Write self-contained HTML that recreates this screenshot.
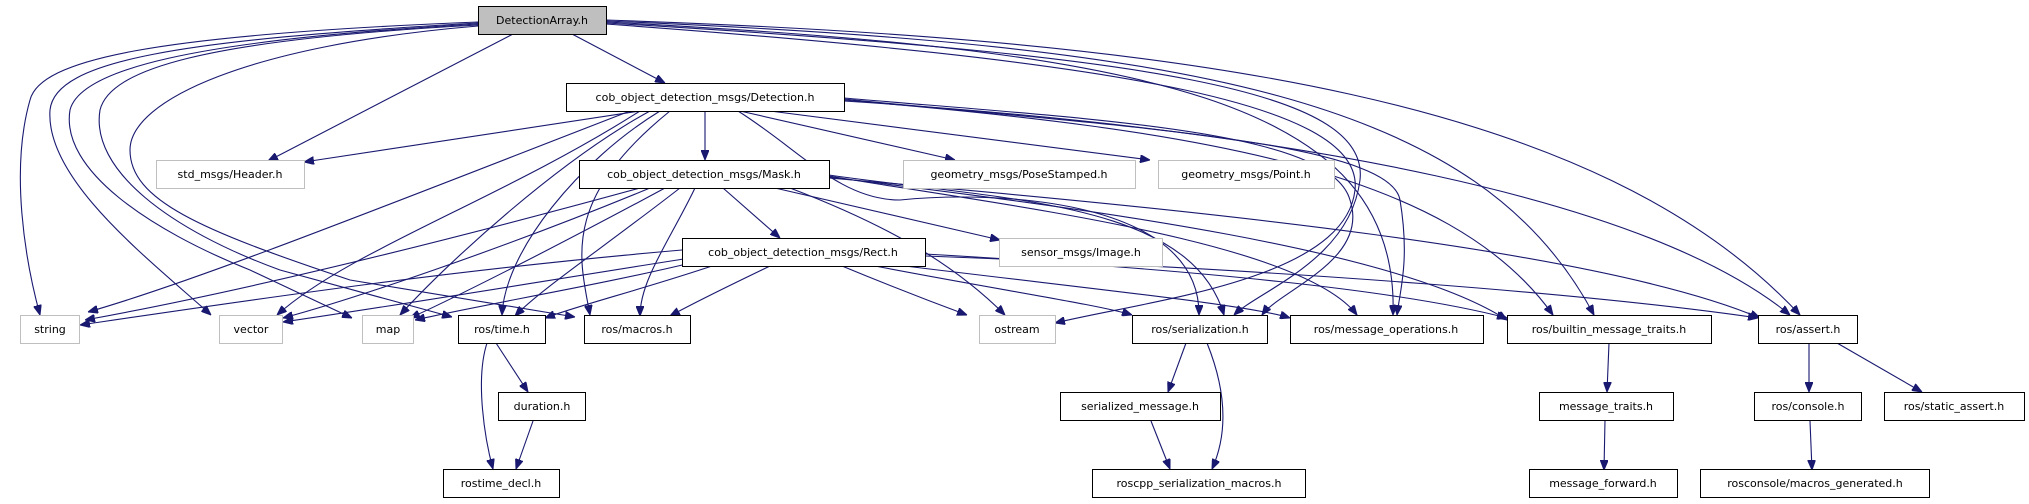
<!DOCTYPE html>
<html><head><meta charset="utf-8"><style>
html,body{margin:0;padding:0;background:#fff;}
svg{display:block;}
text{font-family:"DejaVu Sans","Liberation Sans",sans-serif;font-size:11px;fill:#000;}
.e{fill:none;stroke:#191970;stroke-width:1.1;}
.b{fill:#fff;stroke:#000;stroke-width:1;}
.g{fill:#fff;stroke:#bfbfbf;stroke-width:1;}
</style></head><body>
<svg width="2029" height="504" viewBox="0 0 2029 504" xmlns="http://www.w3.org/2000/svg">
<defs>
<marker id="a" viewBox="0 0 10 8" refX="10" refY="4" markerWidth="10" markerHeight="8" markerUnits="userSpaceOnUse" orient="auto">
<path d="M0,0 L10,4 L0,8 z" fill="#191970" stroke="#191970"/>
</marker>
</defs>
<g class="e" marker-end="url(#a)">
<path d="M572,34 L665,83"/>
<path d="M513,34 L268,161"/>
<path d="M478,22 C150,35 40,60 30,100 C10,170 25,260 40,315"/>
<path d="M478,23 C180,40 55,60 50,110 C45,180 150,260 211,315"/>
<path d="M478,24 C190,40 80,70 70,110 C60,170 150,230 250,270 L352,318"/>
<path d="M478,25 C200,40 110,70 100,110 C90,170 170,230 280,270 L452,317"/>
<path d="M478,26 C250,45 130,100 130,150 C130,200 200,230 350,280 L575,317"/>
<path d="M606,20 C1200,40 1600,100 1800,315"/>
<path d="M606,21 C1200,45 1480,100 1594,315"/>
<path d="M606,22 C1150,50 1400,100 1393,315"/>
<path d="M606,23 C1150,55 1370,90 1360,180 C1350,260 1260,290 1234,315"/>
<path d="M606,24 C1100,60 1365,100 1355,190 C1345,280 1150,300 1055,323"/>
<path d="M705,111 L705,160"/>
<path d="M640,111 L304,162"/>
<path d="M740,111 L955,160"/>
<path d="M770,111 L1150,160"/>
<path d="M630,111 C400,200 200,280 88,312"/>
<path d="M640,111 C500,200 350,250 277,315"/>
<path d="M650,111 C560,160 450,260 400,315"/>
<path d="M660,111 C580,160 505,250 502,315"/>
<path d="M670,111 C560,200 580,260 590,315"/>
<path d="M738,111 C800,150 840,200 900,200 C1000,190 1200,200 1199,315"/>
<path d="M844,98 C1100,120 1330,130 1350,200 C1370,260 1280,290 1262,315"/>
<path d="M844,99 C1100,125 1390,140 1400,200 C1410,260 1400,290 1397,315"/>
<path d="M844,100 C1200,130 1450,170 1553,315"/>
<path d="M844,101 C1300,130 1650,200 1790,315"/>
<path d="M723,188 L780,238"/>
<path d="M775,188 L1000,240"/>
<path d="M640,188 C450,240 250,290 85,320"/>
<path d="M650,188 C500,250 350,300 283,318"/>
<path d="M665,188 C550,250 450,300 410,318"/>
<path d="M680,188 C600,250 540,290 515,316"/>
<path d="M695,188 C670,240 640,280 640,316"/>
<path d="M790,188 C900,230 960,270 1005,315"/>
<path d="M829,175 C1000,200 1190,200 1224,315"/>
<path d="M829,176 C1000,205 1300,240 1357,315"/>
<path d="M829,177 C1100,210 1400,250 1507,320"/>
<path d="M829,178 C1200,210 1600,250 1760,318"/>
<path d="M682,250 C450,270 250,300 80,325"/>
<path d="M690,258 C550,280 400,305 283,322"/>
<path d="M695,262 C600,285 480,305 415,320"/>
<path d="M712,266 C640,290 580,305 545,318"/>
<path d="M770,266 C720,290 690,305 670,316"/>
<path d="M842,266 C900,290 940,305 967,315"/>
<path d="M875,266 C1000,290 1100,305 1132,315"/>
<path d="M905,266 C1100,290 1250,305 1290,318"/>
<path d="M925,254 C1200,270 1400,290 1507,318"/>
<path d="M925,256 C1300,270 1600,295 1758,318"/>
<path d="M496,343 L528,392"/>
<path d="M487,343 C475,380 485,440 493,469"/>
<path d="M533,421 L516,469"/>
<path d="M1186,343 L1168,392"/>
<path d="M1207,343 C1230,400 1225,440 1212,469"/>
<path d="M1151,421 L1170,469"/>
<path d="M1609,343 L1607,392"/>
<path d="M1605,420 L1604,470"/>
<path d="M1809,343 L1809,392"/>
<path d="M1837,343 L1922,392"/>
<path d="M1810,421 L1812,470"/>
</g>
<rect x="478.5" y="6.5" width="128" height="28" fill="#bfbfbf" stroke="#000"/><text x="542" y="24" text-anchor="middle">DetectionArray.h</text>
<rect class="b" x="566.5" y="83.5" width="278" height="28"/><text x="705" y="101" text-anchor="middle">cob_object_detection_msgs/Detection.h</text>
<rect class="g" x="156.5" y="160.5" width="148" height="28"/><text x="230" y="178" text-anchor="middle">std_msgs/Header.h</text>
<rect class="b" x="579.5" y="160.5" width="250" height="28"/><text x="704" y="178" text-anchor="middle">cob_object_detection_msgs/Mask.h</text>
<rect class="g" x="903.5" y="160.5" width="232" height="28"/><text x="1019" y="178" text-anchor="middle">geometry_msgs/PoseStamped.h</text>
<rect class="g" x="1158.5" y="160.5" width="176" height="28"/><text x="1246" y="178" text-anchor="middle">geometry_msgs/Point.h</text>
<rect class="b" x="682.5" y="238.5" width="243" height="28"/><text x="803" y="256" text-anchor="middle">cob_object_detection_msgs/Rect.h</text>
<rect class="g" x="999.5" y="238.5" width="163" height="28"/><text x="1081" y="256" text-anchor="middle">sensor_msgs/Image.h</text>
<rect class="g" x="20.5" y="315.5" width="59" height="28"/><text x="50" y="333" text-anchor="middle">string</text>
<rect class="g" x="219.5" y="315.5" width="63" height="28"/><text x="251" y="333" text-anchor="middle">vector</text>
<rect class="g" x="362.5" y="315.5" width="51" height="28"/><text x="388" y="333" text-anchor="middle">map</text>
<rect class="b" x="458.5" y="315.5" width="87" height="28"/><text x="502" y="333" text-anchor="middle">ros/time.h</text>
<rect class="b" x="584.5" y="315.5" width="106" height="28"/><text x="637" y="333" text-anchor="middle">ros/macros.h</text>
<rect class="g" x="979.5" y="315.5" width="76" height="28"/><text x="1017" y="333" text-anchor="middle">ostream</text>
<rect class="b" x="1132.5" y="315.5" width="135" height="28"/><text x="1200" y="333" text-anchor="middle">ros/serialization.h</text>
<rect class="b" x="1290.5" y="315.5" width="193" height="28"/><text x="1386" y="333" text-anchor="middle">ros/message_operations.h</text>
<rect class="b" x="1507.5" y="315.5" width="204" height="28"/><text x="1609" y="333" text-anchor="middle">ros/builtin_message_traits.h</text>
<rect class="b" x="1758.5" y="315.5" width="99" height="28"/><text x="1808" y="333" text-anchor="middle">ros/assert.h</text>
<rect class="b" x="498.5" y="392.5" width="87" height="28"/><text x="542" y="410" text-anchor="middle">duration.h</text>
<rect class="b" x="1060.5" y="392.5" width="160" height="28"/><text x="1140" y="410" text-anchor="middle">serialized_message.h</text>
<rect class="b" x="1539.5" y="392.5" width="134" height="28"/><text x="1606" y="410" text-anchor="middle">message_traits.h</text>
<rect class="b" x="1754.5" y="392.5" width="107" height="28"/><text x="1808" y="410" text-anchor="middle">ros/console.h</text>
<rect class="b" x="1884.5" y="392.5" width="140" height="28"/><text x="1954" y="410" text-anchor="middle">ros/static_assert.h</text>
<rect class="b" x="443.5" y="469.5" width="116" height="28"/><text x="501" y="487" text-anchor="middle">rostime_decl.h</text>
<rect class="b" x="1092.5" y="469.5" width="213" height="28"/><text x="1199" y="487" text-anchor="middle">roscpp_serialization_macros.h</text>
<rect class="b" x="1529.5" y="469.5" width="148" height="28"/><text x="1603" y="487" text-anchor="middle">message_forward.h</text>
<rect class="b" x="1700.5" y="469.5" width="229" height="28"/><text x="1815" y="487" text-anchor="middle">rosconsole/macros_generated.h</text>
</svg>
</body></html>
